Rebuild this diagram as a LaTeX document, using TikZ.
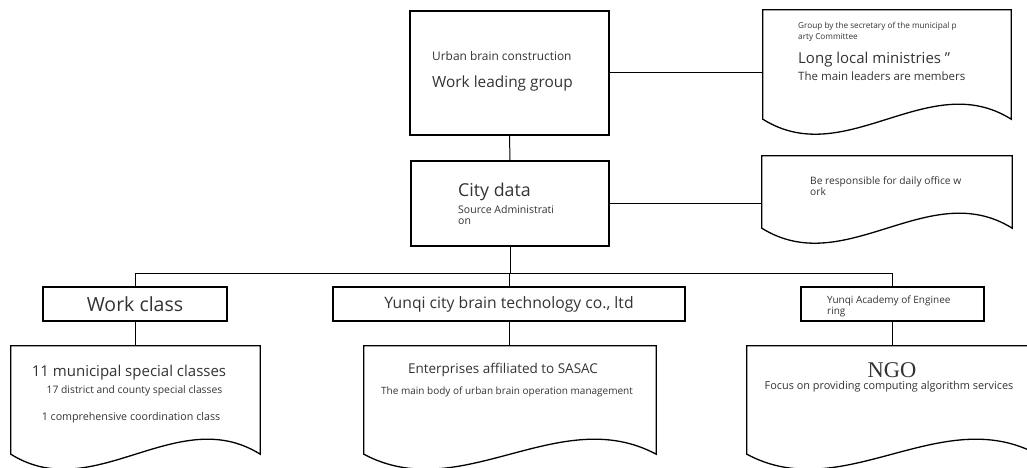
\documentclass[tikz,border=0pt]{standalone}
\usepackage{fontspec}
\setmainfont{Open Sans}
\newfontfamily\ngofont{Liberation Serif}
\usetikzlibrary{calc}

\newcommand{\fs}[1]{\fontsize{#1}{#1}\selectfont}
% outline of a document shape round a named node
\newcommand{\docoutline}[1]{%
  \draw[docline] (#1.south west) -- (#1.north west) -- (#1.north east) -- (#1.south east)
    .. controls ($(#1.south east)!0.333!(#1.south west)+(0,-52)$)
    and ($(#1.south west)!0.333!(#1.south east)+(0,52)$) .. (#1.south west) -- cycle;}

\begin{document}
\begin{tikzpicture}[x=1pt,y=-1pt]
        \tikzset{box/.style = {draw,line width=1.3pt,inner sep=0pt,text=black!80}};
        \tikzset{doc/.style = {inner sep=0pt}};
        \tikzset{docline/.style = {line width=1.3pt}};
        \tikzset{lbl/.style = {inner sep=0pt,anchor=base west,text=black!80}};
        \tikzset{lblc/.style = {inner sep=0pt,anchor=base,text=black!80}};
        \tikzset{edge/.style = {line width=1pt}};
        \path[use as bounding box,clip] (0,0) rectangle (1027,468);
        % boxes
        \node[box,minimum width=199pt,minimum height=124pt] (lead) at (509.5,73) {};
        \node[box,minimum width=198pt,minimum height=85pt] (city) at (510,203.5) {};
        \node[box,minimum width=184pt,minimum height=34pt,font=\fs{19.5}] (wc) at (135,304) {Work class};
        \node[box,minimum width=352pt,minimum height=34pt,font=\fs{15.7}] (yc) at (509,304) {Yunqi city brain technology co., ltd};
        \node[box,minimum width=183pt,minimum height=34pt] (ya) at (892.5,304) {};
        % documents
        \node[doc,minimum width=248pt,minimum height=109pt] (grp) at (887,64.5) {};
        \node[doc,minimum width=250pt,minimum height=72pt] (ofc) at (887,192) {};
        \node[doc,minimum width=249pt,minimum height=108pt] (cls) at (135.5,400) {};
        \node[doc,minimum width=292pt,minimum height=108pt] (sas) at (510,400) {};
        \node[doc,minimum width=290pt,minimum height=108pt] (ngo) at (892,400) {};
        \docoutline{grp}
        \docoutline{ofc}
        \docoutline{cls}
        \docoutline{sas}
        \docoutline{ngo}
        % texts
        \node[lbl,font=\fs{11.9}] (lead1) at (432,61) {Urban brain construction};
        \node[lbl,font=\fs{15.4}] (lead2) at (432,88) {Work leading group};
        \node[lbl,font=\fs{8.2}] (grp1) at (798,29) {Group by the secretary of the municipal p};
        \node[lbl,font=\fs{8.2}] (grp2) at (798,40) {arty Committee};
        \node[lbl,font=\fs{15}] (grp3) at (798,64) {Long local ministries "};
        \node[lbl,font=\fs{11.5}] (grp4) at (798,81) {The main leaders are members};
        \node[lbl,font=\fs{17.8}] (city1) at (458,196) {City data};
        \node[lbl,font=\fs{10.5}] (city2) at (458,213) {Source Administrati};
        \node[lbl,font=\fs{10.5}] (city3) at (458,224) {on};
        \node[lbl,font=\fs{10.2}] (ofc1) at (810,184) {Be responsible for daily office w};
        \node[lbl,font=\fs{10.2}] (ofc2) at (810,195) {ork};
        \node[lbl,font=\fs{10}] (ya1) at (827,303) {Yunqi Academy of Enginee};
        \node[lbl,font=\fs{10}] (ya2) at (827,314) {ring};
        \node[lblc,font=\fs{15}] (cls1) at (129,376) {11 municipal special classes};
        \node[lblc,font=\fs{10.3}] (cls2) at (134.5,393) {17 district and county special classes};
        \node[lblc,font=\fs{10.7}] (cls3) at (131,420) {1 comprehensive coordination class};
        \node[lblc,font=\fs{13.5}] (sas1) at (503,373) {Enterprises affiliated to SASAC};
        \node[lblc,font=\fs{10}] (sas2) at (507,394) {The main body of urban brain operation management};
        \node[lblc,font=\ngofont\fs{22.5}] (ngo1) at (892,377) {NGO};
        \node[lblc,font=\fs{10.9}] (ngo2) at (889,389) {Focus on providing computing algorithm services};
        % connectors
        \coordinate (bus) at (509,273);
        \draw[edge] (lead.east) to (lead.east -| grp.west);
        \draw[edge] (lead.south) to (city.north);
        \draw[edge] (city.east) to (city.east -| ofc.west);
        \draw[edge] (city.south) to (city.south |- bus);
        \draw[edge] (wc.north) -- (wc.north |- bus) -- (ya.north |- bus) -- (ya.north);
        \draw[edge] (yc.north) to (yc.north |- bus);
        \draw[edge] (wc.south) to (wc.south |- cls.north);
        \draw[edge] (yc.south) to (yc.south |- sas.north);
        \draw[edge] (ya.south) to (ya.south |- ngo.north);
    \end{tikzpicture}
\end{document}
